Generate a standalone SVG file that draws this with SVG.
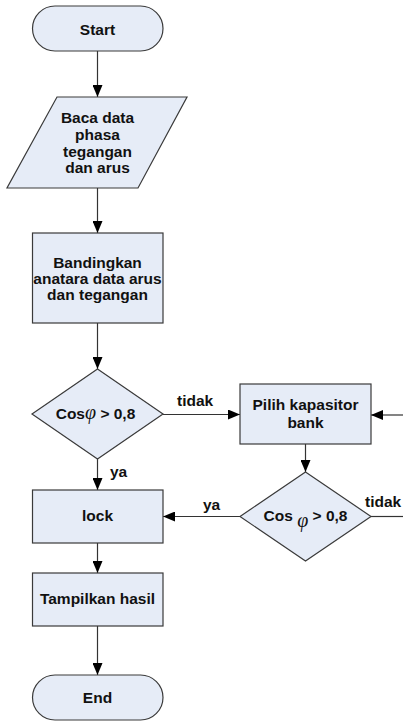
<svg xmlns="http://www.w3.org/2000/svg" width="403" height="721" viewBox="0 0 403 721">
<defs>
<marker id="ah" markerWidth="12" markerHeight="10" refX="12" refY="5" orient="auto" markerUnits="userSpaceOnUse">
<path d="M0,0 L12,5 L0,10 Z" fill="#000"/>
</marker>
<style>
.n{fill:#E6ECF7;stroke:#3a3a3a;stroke-width:1.2}
.t{font-family:"Liberation Sans",Arial,sans-serif;font-weight:bold;font-size:15.5px;fill:#111;text-anchor:middle}
.l{font-family:"Liberation Sans",Arial,sans-serif;font-weight:bold;font-size:15.5px;fill:#111}
.phi{font-family:"Liberation Serif","Times New Roman",serif;font-style:italic;font-weight:normal;font-size:20px}
.c{stroke:#333;stroke-width:1.2;fill:none}
.a{marker-end:url(#ah)}
</style>
</defs>
<rect width="403" height="721" fill="#fff"/>
<g id="connectors">
<line class="c a" x1="97.5" y1="51" x2="97.5" y2="97"/>
<line class="c a" x1="97.5" y1="188" x2="97.5" y2="233"/>
<line class="c a" x1="97.5" y1="323" x2="97.5" y2="369"/>
<line class="c a" x1="163" y1="414.5" x2="240" y2="414.5"/>
<line class="c a" x1="97.5" y1="459" x2="97.5" y2="490"/>
<line class="c a" x1="305.5" y1="444" x2="305.5" y2="472"/>
<line class="c a" x1="240" y1="516.5" x2="163" y2="516.5"/>
<line class="c" x1="371" y1="516.5" x2="403" y2="516.5"/>
<line class="c a" x1="403" y1="415" x2="371" y2="415"/>
<line class="c a" x1="97.5" y1="543" x2="97.5" y2="573"/>
<line class="c a" x1="97.5" y1="626" x2="97.5" y2="675"/>
<text class="l" x="177" y="406">tidak</text>
<text class="l" x="110" y="477">ya</text>
<text class="l" x="203" y="510">ya</text>
<text class="l" x="365" y="507">tidak</text>
</g>
<g id="start">
<rect class="n" x="32.5" y="6" width="130.5" height="45" rx="22.5" ry="22.5"/>
<text class="t" x="97.5" y="35">Start</text>
</g>
<g id="input">
<polygon class="n" points="57,97 187,97 138,188 7,188"/>
<text class="t" x="97.5" y="123">Baca data</text>
<text class="t" x="97.5" y="140">phasa</text>
<text class="t" x="97.5" y="157">tegangan</text>
<text class="t" x="97.5" y="173">dan arus</text>
</g>
<g id="bandingkan">
<rect class="n" x="32.5" y="233" width="130.5" height="90"/>
<text class="t" x="97.5" y="268">Bandingkan</text>
<text class="t" x="97.5" y="284">anatara data arus</text>
<text class="t" x="97.5" y="300">dan tegangan</text>
</g>
<g id="decision1">
<polygon class="n" points="97.5,369 163,414 97.5,459 32,414"/>
<text class="t" x="95.5" y="419">Cos<tspan class="phi">φ</tspan> &gt; 0,8</text>
</g>
<g id="pilih">
<rect class="n" x="240" y="384" width="131" height="60"/>
<text class="t" x="305.5" y="410">Pilih kapasitor</text>
<text class="t" x="305.5" y="428">bank</text>
</g>
<g id="decision2">
<polygon class="n" points="305.5,472 371,516.5 305.5,561 240,516.5"/>
<text class="t" x="305.5" y="521">Cos <tspan class="phi" dy="6">φ</tspan><tspan dy="-6"> &gt; 0,8</tspan></text>
</g>
<g id="lock">
<rect class="n" x="32.5" y="490" width="130.5" height="53"/>
<text class="t" x="97.5" y="521">lock</text>
</g>
<g id="tampilkan">
<rect class="n" x="32.5" y="573" width="130.5" height="53"/>
<text class="t" x="97.5" y="604">Tampilkan hasil</text>
</g>
<g id="end">
<rect class="n" x="32.5" y="675" width="130.5" height="45" rx="22.5" ry="22.5"/>
<text class="t" x="97.5" y="703">End</text>
</g>
</svg>
